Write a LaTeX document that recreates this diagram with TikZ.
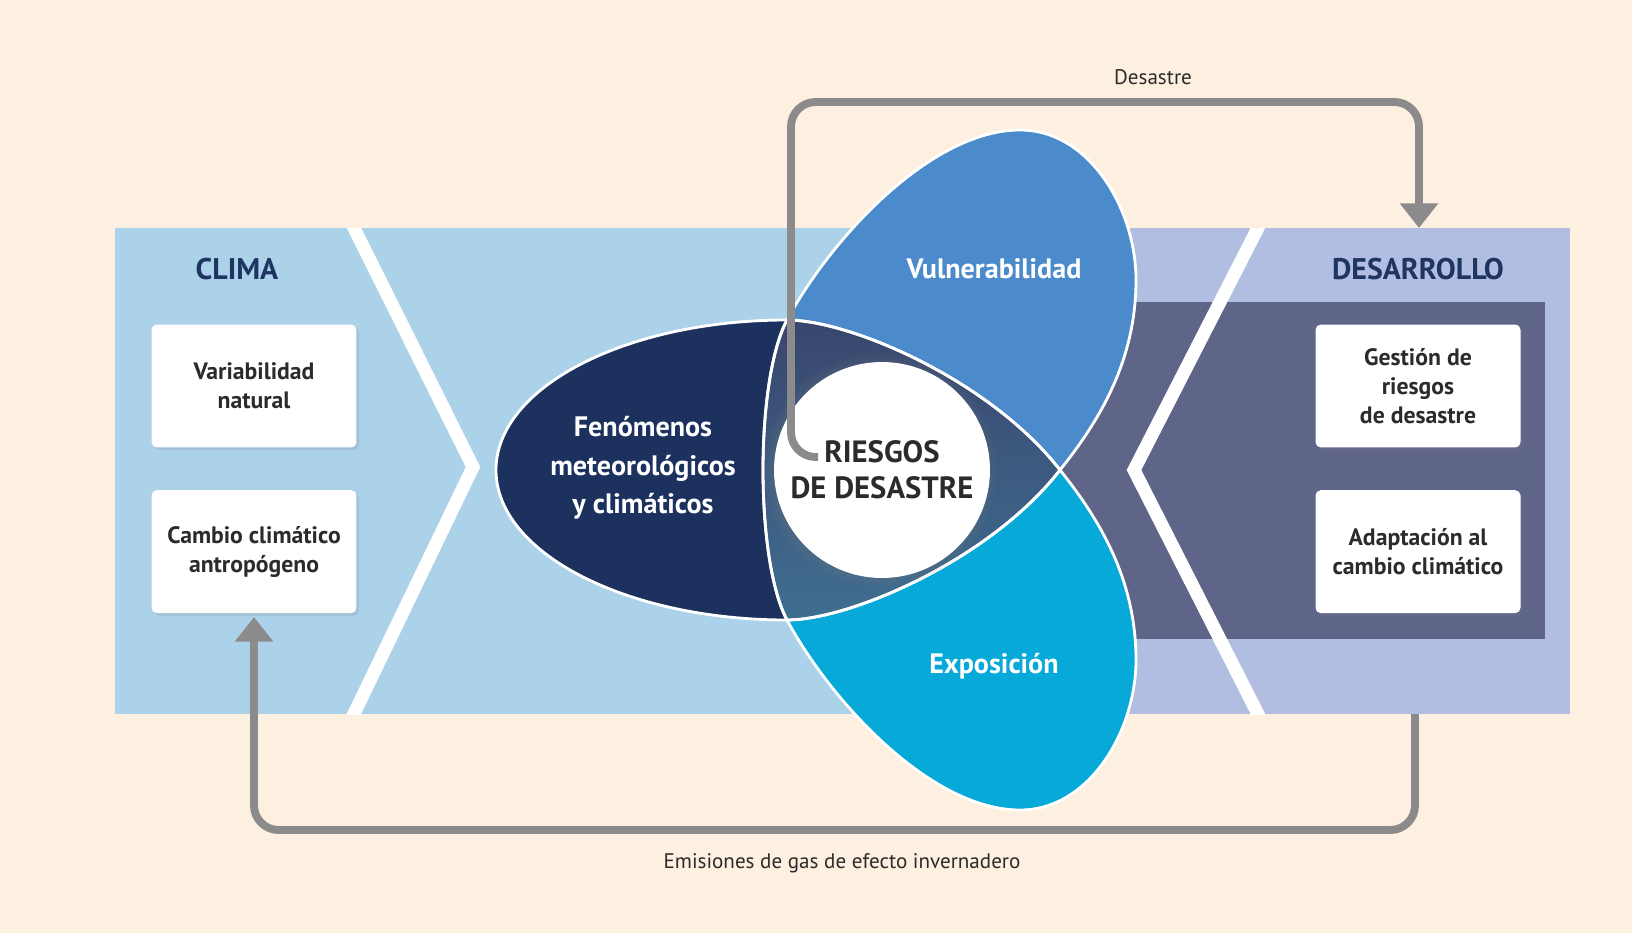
\documentclass[tikz,border=0pt]{standalone}
\usepackage{fontspec}
\setmainfont{PT Sans}
\usepackage{tikz}
\usetikzlibrary{positioning}
\usetikzlibrary{shadows}
\usetikzlibrary{arrows.meta}

\definecolor{crema}{HTML}{FDF0E0}
\definecolor{celeste}{HTML}{ABD2E9}
\definecolor{lila}{HTML}{B1BDE1}
\definecolor{lilaosc}{HTML}{5F6489}
\definecolor{marino}{HTML}{1C315E}
\definecolor{azul}{HTML}{4B8BCB}
\definecolor{cian}{HTML}{06A9D7}
\definecolor{centroA}{HTML}{39466D}
\definecolor{centroP}{HTML}{4A77A0}
\definecolor{centroB}{HTML}{3F6E91}
\definecolor{azultitulo}{HTML}{1D3560}
\definecolor{texto}{HTML}{2B2B2B}
\definecolor{flecha}{HTML}{8B8B8B}

% petalos: F con punta en (1060,470), V con punta en (787,620), E es el reflejo de V
\def\petaloF{(787,320) .. controls (850,320) and (990,380) .. (1060,470) .. controls (990,560) and (850,620) .. (787,620) arc[start angle=90, end angle=270, x radius=291, y radius=150] -- cycle}
\def\petaloV{(787,620) .. controls (755,560) and (755,380) .. (787,320) .. controls (830,240) and (930,130) .. (1020,130) .. controls (1090,130) and (1136,210) .. (1136,280) .. controls (1136,360) and (1100,420) .. (1060,470) .. controls (990,560) and (850,620) .. (787,620) -- cycle}
\def\centro{(787,320) .. controls (850,320) and (990,380) .. (1060,470) .. controls (990,560) and (850,620) .. (787,620) .. controls (755,560) and (755,380) .. (787,320) -- cycle}

\begin{document}
\begin{tikzpicture}[x=0.02cm, y=-0.02cm,
  caja/.style={fill=white, rounded corners=3pt, minimum width=4.1cm, minimum height=2.46cm, align=center, text=texto, font=\fontsize{13.5}{16.5}\selectfont\bfseries, drop shadow={opacity=0.2, shadow xshift=1.5pt, shadow yshift=-1.5pt}},
  titulo/.style={text=azultitulo, font=\fontsize{17}{20}\selectfont\bfseries},
  enpetalo/.style={text=white, align=center, font=\fontsize{16}{22}\selectfont\bfseries},
  nota/.style={text=texto, font=\fontsize{12}{14}\selectfont},
  flechagris/.style={draw=flecha, line width=4.5pt, rounded corners=14pt},
  borde/.style={draw=white, line width=1.6pt},
  chevron/.style={draw=white, line width=7.4pt},
  reflejo/.style={shift={(0,940)}, yscale=-1}
]

\useasboundingbox (0,0) rectangle (1632,933);
\fill[crema] (0,0) rectangle (1632,933);

% banda
\fill[celeste] (115,228) rectangle (1125,714);
\fill[lila] (1125,228) rectangle (1570,714);
\fill[lilaosc] (1000,302) rectangle (1545,639);

\begin{scope}
\clip (115,228) rectangle (1570,714);
\draw[chevron] (350,220) -- (473,467) -- (350,722);
\draw[chevron] (1262,220) -- (1134,470) -- (1262,722);
\end{scope}

\node[titulo] (clima) at (237,269) {CLIMA};
\node[titulo] (desarrollo) at (1418,269) {DESARROLLO};

\node[caja] (var) at (254,386) {Variabilidad\\natural};
\node[caja, below=0.84cm of var] (cambio) {Cambio climático\\antropógeno};
\node[caja] (gestion) at (1418,386) {Gestión de\\riesgos\\de desastre};
\node[caja, below=0.84cm of gestion] (adapt) {Adaptación al\\cambio climático};

% petalos
\fill[marino] \petaloF;
\fill[azul] \petaloV;
\fill[cian, reflejo] \petaloV;
\shade[top color=centroA, middle color=centroP, bottom color=centroB] \centro;

\draw[borde] \petaloF;
\draw[borde] \petaloV;
\draw[borde, reflejo] \petaloV;

\node[enpetalo] (fen) at (643,468) {Fenómenos\\meteorológicos\\y climáticos};
\node[enpetalo] (vul) at (994,269) {Vulnerabilidad};
\node[enpetalo] (expo) at (994,666) {Exposición};

\node[circle, fill=white, minimum size=4.32cm, align=center, text=texto,
  font=\fontsize{17.5}{20.5}\selectfont\bfseries,
  circular drop shadow={opacity=0.3, shadow xshift=-1.5pt, shadow yshift=0pt}] (riesgos) at (882,470) {RIESGOS\\DE DESASTRE};

% flechas
\coordinate (ini) at (818,457);
\coordinate (entrada) at (1419,228);
\coordinate (salida) at (1415,714);

\draw[flechagris, -{Triangle[width=21pt,length=14pt]}] (ini) -| (791,102) -| (entrada);
\draw[flechagris, -{Triangle[width=21pt,length=14pt]}] (salida) -- (1415,830) -| ([yshift=-2pt]cambio.south);

\node[nota] (desastre) at (1153,77) {Desastre};
\node[nota] (emisiones) at (842,863) {Emisiones de gas de efecto invernadero};

\end{tikzpicture}
\end{document}
